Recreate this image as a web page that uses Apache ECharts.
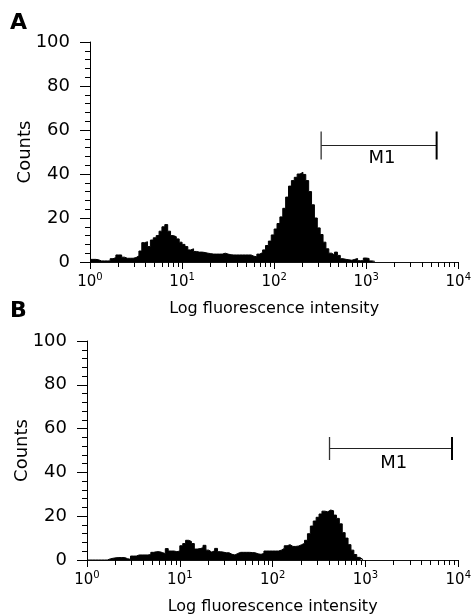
<!DOCTYPE html>
<html><head><meta charset="utf-8">
<script src="https://cdn.jsdelivr.net/npm/echarts@6/dist/echarts.min.js"></script>
<style>html,body{margin:0;padding:0;background:#fff}#c{width:474px;height:616px}</style>
</head><body><div id="c"></div>
<script>
// Histogram channels: 32 channels per decade, 4 decades (10^0 .. 10^4)
const channelsPerDecade = 32;
const decades = [0, 1, 2, 3, 4];
const minorMultipliers = [2, 3, 4, 5, 6, 7, 8, 9];
const yTicks = [0, 20, 40, 60, 80, 100];
const panelLabels = ['A', 'B'];
const xAxisTitle = 'Log fluorescence intensity';
const yAxisTitle = 'Counts';
const gateName = 'M1';

// Panel A counts per channel
const countsA = [
  1.2, 1.2, 1.0, 0.5, 0.5, 0.5, 0.5, 1.5, 2.0, 3.2,
  3.2, 2.2, 1.7, 1.7, 1.7, 2.0, 2.8, 5.0, 8.8, 9.2,
  7.0, 10, 11, 12, 14, 16, 17, 14, 12, 11.5,
  10.5, 9, 8, 7, 5.5, 6, 4.8, 4.5, 4.5, 4.3,
  4.0, 3.8, 3.6, 3.6, 3.6, 3.6, 4.0, 3.6, 3.3, 3.2,
  3.2, 3.2, 3.2, 3.2, 3.2, 3.2, 2.6, 2.4, 3.6, 4.3,
  5.5, 7.5, 9.5, 12.3, 15, 17.5, 20.5, 24.4, 29.5, 34.5,
  37, 38.5, 40, 40.8, 39.8, 37, 32, 26, 20, 15.5,
  12.5, 9, 6, 4, 3.2, 4.5, 3.0, 1.5, 1.2, 1.0,
  0.8, 1.2, 1.6, 0.6, 0.6, 1.8, 1.6, 0.5, 0.3
];
// Panel B counts per channel
const countsB = [
  0, 0, 0, 0, 0, 0, 0, 0.5, 0.8, 1.0,
  1.1, 1.1, 1.1, 0.6, 0.3, 1.8, 1.8, 2.3, 2.3, 2.3,
  2.3, 2.5, 3.5, 3.8, 3.8, 3.4, 2.9, 5.2, 4.1, 4.1,
  3.8, 4.1, 6.5, 7.5, 9.0, 8.5, 7.5, 5.0, 5.2, 5.6,
  6.7, 4.5, 3.6, 4.2, 5.3, 3.8, 3.6, 3.3, 3.3, 2.6,
  2.3, 3.0, 3.5, 3.5, 3.5, 3.5, 3.4, 3.3, 2.8, 2.6,
  3.0, 4.1, 4.1, 4.1, 4.1, 4.1, 4.5, 5.3, 6.5, 7.0,
  6.2, 6.2, 6.4, 7.0, 7.6, 9.0, 12, 15.5, 17.8, 19.5,
  21, 22.3, 22, 22.8, 22.5, 20.5, 19, 16.5, 12.5, 10,
  7, 4.5, 2.5, 1.2, 0.4
];
// M1 gate: [from intensity, to intensity, count level]
const gateA = [324, 5820, 53];
const gateB = [410, 8560, 51];

const FONT = 'DejaVu Sans';

function histData(counts) {
  const d = counts.map((c, i) => [i / channelsPerDecade, c]);
  d.push([counts.length / channelsPerDecade, 0]);
  return d;
}
const minorTickValues = [];
decades.slice(0, -1).forEach(d => minorMultipliers.forEach(m => minorTickValues.push([d + Math.log10(m), 0])));

function xAxisCfg(gi) {
  return {
    type: 'value', gridIndex: gi, min: decades[0], max: decades[decades.length - 1], interval: 1,
    axisLine: { show: true, onZero: false, lineStyle: { color: '#111', width: 1 } },
    axisTick: { show: true, length: 7, lineStyle: { color: '#000' } },
    splitLine: { show: false },
    axisLabel: {
      margin: 10, color: '#000',
      formatter: v => '{b|10}{s|' + v + '}',
      rich: {
        b: { fontFamily: FONT, fontSize: 15, color: '#000', lineHeight: 18, verticalAlign: 'bottom' },
        s: { fontFamily: FONT, fontSize: 10, color: '#000', lineHeight: 18, verticalAlign: 'top' }
      }
    },
    name: xAxisTitle, nameLocation: 'middle', nameGap: 39, nameMoveOverlap: false,
    nameTextStyle: { fontFamily: FONT, fontSize: 16, color: '#000' }
  };
}
function yAxisCfg(gi) {
  return {
    type: 'value', gridIndex: gi, min: yTicks[0], max: yTicks[yTicks.length - 1], interval: 20,
    axisLine: { show: true, lineStyle: { color: '#000', width: 1 } },
    axisTick: { show: true, length: 10, lineStyle: { color: '#000' } },
    minorTick: { show: true, splitNumber: 5, length: 5, lineStyle: { color: '#000' } },
    splitLine: { show: false },
    axisLabel: { margin: 20, fontFamily: FONT, fontSize: 18, color: '#000' },
    name: yAxisTitle, nameLocation: 'middle', nameGap: 56, nameRotate: 90, nameMoveOverlap: false,
    nameTextStyle: { fontFamily: FONT, fontSize: 18, color: '#000' }
  };
}
function histSeries(gi, counts) {
  return {
    type: 'line', xAxisIndex: gi, yAxisIndex: gi, data: histData(counts), step: 'end',
    symbol: 'none', silent: true, animation: false,
    lineStyle: { color: '#000', width: 1 }, areaStyle: { color: '#000', opacity: 1 }
  };
}
function minorTickSeries(gi) {
  return {
    type: 'custom', xAxisIndex: gi, yAxisIndex: gi, data: minorTickValues, silent: true, clip: false, animation: false,
    renderItem: (p, api) => {
      const pt = api.coord([api.value(0), 0]);
      const x = Math.round(pt[0]) + 0.5;
      return { type: 'line', shape: { x1: x, y1: pt[1], x2: x, y2: pt[1] + 5 }, style: { stroke: '#000', lineWidth: 1 } };
    }
  };
}
function gateSeries(gi, gate, half, textOff) {
  return {
    type: 'custom', xAxisIndex: gi, yAxisIndex: gi, silent: true, clip: false, animation: false,
    data: [[Math.log10(gate[0]), Math.log10(gate[1]), gate[2]]],
    renderItem: (p, api) => {
      const a = api.coord([api.value(0), api.value(2)]);
      const b = api.coord([api.value(1), api.value(2)]);
      const y = Math.round(a[1]) + 0.5;
      return { type: 'group', children: [
        { type: 'line', shape: { x1: a[0], y1: y, x2: b[0], y2: y }, style: { stroke: '#222', lineWidth: 1.2 } },
        { type: 'line', shape: { x1: a[0], y1: y - half, x2: a[0], y2: y + half }, style: { stroke: '#333', lineWidth: 1.3 } },
        { type: 'line', shape: { x1: b[0], y1: y - half, x2: b[0], y2: y + half }, style: { stroke: '#000', lineWidth: 2 } },
        { type: 'text', x: (a[0] + b[0]) / 2 + 3, y: y + textOff,
          style: { text: gateName, fill: '#000', font: '18px "DejaVu Sans"', align: 'center', verticalAlign: 'top' } }
      ] };
    }
  };
}

const chart = echarts.init(document.getElementById('c'), null, { renderer: 'canvas' });
chart.setOption({
  backgroundColor: '#fff',
  animation: false,
  title: [
    { text: panelLabels[0], left: 10, top: 12, padding: 0, textStyle: { fontFamily: FONT, fontWeight: 'bold', fontSize: 22, color: '#000' } },
    { text: panelLabels[1], left: 10, top: 300, padding: 0, textStyle: { fontFamily: FONT, fontWeight: 'bold', fontSize: 22, color: '#000' } }
  ],
  grid: [
    { left: 90, top: 42, width: 370, height: 220 },
    { left: 87, top: 341, width: 372, height: 220 }
  ],
  xAxis: [xAxisCfg(0), xAxisCfg(1)],
  yAxis: [yAxisCfg(0), yAxisCfg(1)],
  series: [
    histSeries(0, countsA), histSeries(1, countsB),
    minorTickSeries(0), minorTickSeries(1),
    gateSeries(0, gateA, 14, 4), gateSeries(1, gateB, 11.5, 6)
  ]
});
</script></body></html>
